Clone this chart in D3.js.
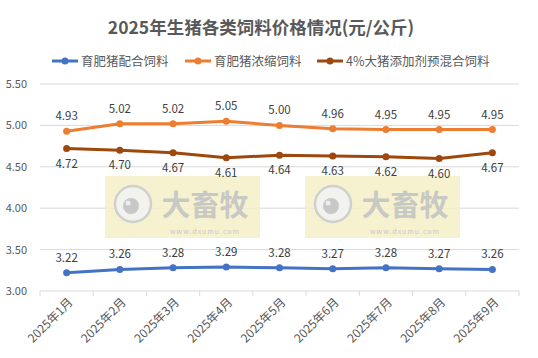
<!DOCTYPE html>
<html><head><meta charset="utf-8">
<script src="https://cdn.jsdelivr.net/npm/d3@7"></script>
<style>body{margin:0;background:#fff;}svg{display:block;font-family:"Microsoft YaHei","Noto Sans CJK SC",sans-serif;}</style>
</head><body><svg id="c" width="538" height="358"></svg>
<script>
const categories = ["2025年1月","2025年2月","2025年3月","2025年4月","2025年5月","2025年6月","2025年7月","2025年8月","2025年9月"];
const seriesNames = ["育肥猪配合饲料","育肥猪浓缩饲料","4%大猪添加剂预混合饲料"];
const peiHe = [3.22,3.26,3.28,3.29,3.28,3.27,3.28,3.27,3.26];
const nongSuo = [4.93,5.02,5.02,5.05,5.00,4.96,4.95,4.95,4.95];
const yuHun = [4.72,4.70,4.67,4.61,4.64,4.63,4.62,4.60,4.67];
const yTicks = [3.00,3.50,4.00,4.50,5.00,5.50];
const title = "2025年生猪各类饲料价格情况(元/公斤)";

const colors = ["#4472C4","#ED7D31","#9E480E"];
const series = [
  {name:seriesNames[0], values:peiHe, color:colors[0], pos:"above"},
  {name:seriesNames[1], values:nongSuo, color:colors[1], pos:"above"},
  {name:seriesNames[2], values:yuHun, color:colors[2], pos:"below"}
];
const svg = d3.select("#c");
const L=40, R=519, T=84, B=291;
const x = d3.scaleBand().domain(categories).range([L,R]);
const y = d3.scaleLinear().domain([3,5.5]).range([B,T]);

svg.append("text").attr("x",261).attr("y",34).attr("text-anchor","middle")
  .attr("font-size",17.5).attr("font-weight","bold").attr("fill","#595959").text(title);

// gridlines
svg.append("g").selectAll("line").data(yTicks.slice(1)).join("line")
  .attr("x1",L).attr("x2",R).attr("y1",d=>y(d)).attr("y2",d=>y(d))
  .attr("stroke","#d9d9d9").attr("stroke-width",1);
// y labels
svg.append("g").selectAll("text").data(yTicks).join("text")
  .attr("x",27).attr("y",d=>y(d)+4).attr("text-anchor","end")
  .attr("font-size",11).attr("fill","#595959").text(d=>d.toFixed(2));

// watermarks
[105,305].forEach(wx=>{
  const g=svg.append("g");
  g.append("rect").attr("x",wx).attr("y",176).attr("width",155).attr("height",62).attr("fill","#f5f0c8").attr("opacity",0.85);
  g.append("circle").attr("cx",wx+28).attr("cy",204).attr("r",18).attr("fill","#f2f2ee").attr("stroke","#d0d0cc").attr("stroke-width",2.5);
  g.append("circle").attr("cx",wx+26).attr("cy",206).attr("r",8).attr("fill","#c8c8c8");
  g.append("circle").attr("cx",wx+23).attr("cy",203).attr("r",2.5).attr("fill","#eee");
  g.append("text").attr("x",wx+100).attr("y",216).attr("text-anchor","middle").attr("font-size",29).attr("font-weight","bold").attr("fill","#c8c8c4").text("大畜牧");
  g.append("text").attr("x",wx+100).attr("y",234).attr("text-anchor","middle").attr("font-size",7).attr("letter-spacing",1).attr("fill","#c8c8c4").text("www.dxumu.com");
});

// x axis
svg.append("line").attr("x1",L).attr("x2",R).attr("y1",B).attr("y2",B).attr("stroke","#d9d9d9");
const bounds = categories.map(c=>x(c)).concat([R]);
svg.append("g").selectAll("line").data(bounds).join("line")
  .attr("x1",d=>d).attr("x2",d=>d).attr("y1",B).attr("y2",B+5).attr("stroke","#d9d9d9");
svg.append("g").selectAll("text").data(categories).join("text")
  .attr("transform",d=>`translate(${x(d)+x.bandwidth()/2+7},${B+12}) rotate(-45)`)
  .attr("text-anchor","end").attr("font-size",12).attr("fill","#595959").text(d=>d);

const cx = d=>x(d)+x.bandwidth()/2;
const line = d3.line().x((v,i)=>cx(categories[i])).y(v=>y(v));
series.forEach(s=>{
  svg.append("path").attr("d",line(s.values)).attr("fill","none").attr("stroke",s.color).attr("stroke-width",3).attr("stroke-linejoin","round");
  svg.append("g").selectAll("circle").data(s.values).join("circle")
    .attr("cx",(v,i)=>cx(categories[i])).attr("cy",v=>y(v)).attr("r",3.5).attr("fill",s.color);
  svg.append("g").selectAll("text").data(s.values).join("text")
    .attr("x",(v,i)=>cx(categories[i])).attr("y",v=>s.pos==="above"?y(v)-11:y(v)+19)
    .attr("text-anchor","middle").attr("font-size",11.5).attr("fill","#404040").text(v=>v.toFixed(2));
});

// legend
const lx=[52,185,317];
series.forEach((s,i)=>{
  const g=svg.append("g");
  g.append("line").attr("x1",lx[i]).attr("x2",lx[i]+26).attr("y1",61).attr("y2",61).attr("stroke",s.color).attr("stroke-width",3);
  g.append("circle").attr("cx",lx[i]+13).attr("cy",61).attr("r",3.5).attr("fill",s.color);
  g.append("text").attr("x",lx[i]+29).attr("y",65.5).attr("font-size",12.5).attr("fill","#595959").text(s.name);
});
</script></body></html>
